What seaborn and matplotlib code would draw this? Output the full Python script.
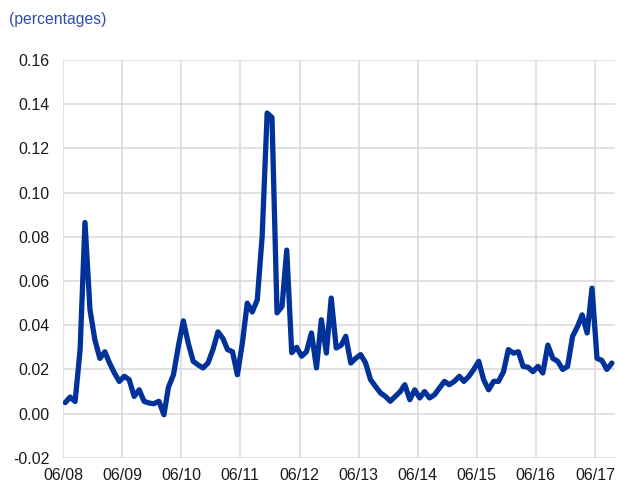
import pandas as pd
import matplotlib
matplotlib.use("Agg")
import matplotlib.pyplot as plt
import matplotlib.dates as mdates
import seaborn as sns

# monthly values, June 2008 onwards (percentages)
start_month = "2008-06-01"
values = [
    0.005, 0.0075, 0.0055, 0.029, 0.0865, 0.047, 0.0335, 0.025, 0.028, 0.023,
    0.0184, 0.0146, 0.0169, 0.0154, 0.0078, 0.0108, 0.0056, 0.0048, 0.0045, 0.0056,
    -0.0005, 0.012, 0.0176, 0.0304, 0.042, 0.032, 0.0237, 0.022, 0.0207, 0.023,
    0.029, 0.037, 0.034, 0.029, 0.028, 0.0176, 0.032, 0.050, 0.046, 0.0515,
    0.080, 0.136, 0.134, 0.0456, 0.0485, 0.074, 0.0276, 0.030, 0.026, 0.028,
    0.0365, 0.0207, 0.0425, 0.0274, 0.0523, 0.0297, 0.031, 0.035, 0.0229, 0.025,
    0.0267, 0.023, 0.0154, 0.0123, 0.0094, 0.0078, 0.0056, 0.0078, 0.010, 0.0131,
    0.0063, 0.0108, 0.0071, 0.010, 0.0071, 0.0086, 0.0116, 0.0146, 0.0131, 0.0146,
    0.0169, 0.0146, 0.0169, 0.020, 0.0237, 0.0154, 0.0108, 0.0146, 0.0146, 0.019,
    0.029, 0.0274, 0.028, 0.0214, 0.021, 0.019, 0.0214, 0.0184, 0.031, 0.025,
    0.0237, 0.020, 0.0214, 0.035, 0.0395, 0.0447, 0.0365, 0.0568, 0.025, 0.0241,
    0.020, 0.0229,
]
y_ticks = [-0.02, 0.00, 0.02, 0.04, 0.06, 0.08, 0.10, 0.12, 0.14, 0.16]
x_tick_years = list(range(2008, 2018))

# observations sit mid-month
df = pd.DataFrame({
    "date": pd.date_range(start_month, periods=len(values), freq="MS") + pd.Timedelta(days=13),
    "value": values,
})

sns.set_style("white")
plt.rcParams["font.family"] = ["Liberation Sans", "DejaVu Sans"]
plt.rcParams["axes.unicode_minus"] = False

fig = plt.figure(figsize=(6.19, 4.84), dpi=100)
ax = fig.add_axes([0.102, 0.054, 0.8915, 0.822])

sns.lineplot(data=df, x="date", y="value", color="#003299", linewidth=3.8, ax=ax)

ax.set_ylim(-0.02, 0.16)
ax.set_yticks(y_ticks)
ax.set_yticklabels([f"{v:.2f}" for v in y_ticks])
ax.set_xlim(pd.Timestamp("2008-06-01"), pd.Timestamp("2017-10-03"))
ax.set_xticks([pd.Timestamp(f"{y}-06-01") for y in x_tick_years])
ax.xaxis.set_major_formatter(mdates.DateFormatter("%m/%y"))

ax.grid(True, color="#d9d9d9", linewidth=1.1)
ax.set_axisbelow(True)
for s in ax.spines.values():
    s.set_visible(False)
ax.tick_params(axis="both", length=0, labelsize=11.5, colors="#1a1a1a")
ax.tick_params(axis="x", pad=7)
ax.tick_params(axis="y", pad=10)
ax.set_xlabel("")
ax.set_ylabel("")

fig.text(0.014, 0.96, "(percentages)", color="#2a50a8", fontsize=11.3, va="center", ha="left")

fig.savefig("out.png", dpi=100)
